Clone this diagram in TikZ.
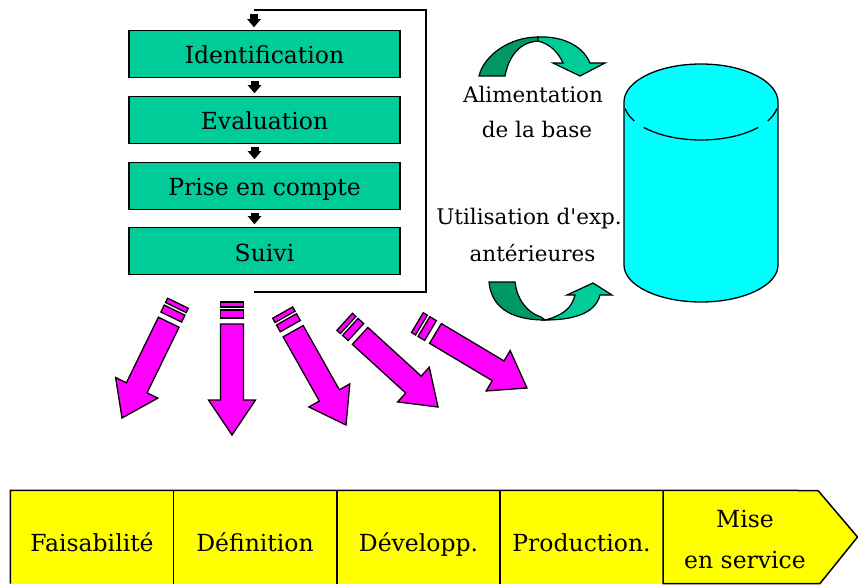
\documentclass[tikz,border=0pt]{standalone}
\usepackage{fontspec}
\setmainfont{DejaVu Serif}
\usetikzlibrary{arrows.meta,calc}
\definecolor{boxgreen}{HTML}{00CC99}
\definecolor{darkgreen}{HTML}{009966}
\definecolor{pinkarrow}{HTML}{FF00FF}
\definecolor{cyl}{HTML}{00FFFF}
\definecolor{phase}{HTML}{FFFF00}
\tikzset{
  stepbox/.style={draw=black,line width=1.5pt,fill=boxgreen,minimum width=271pt,minimum height=47pt,inner sep=0pt,text height=24pt,text depth=4pt,font=\fontsize{23.5}{26}\selectfont},
  phasebox/.style={fill=phase,minimum width=163pt,minimum height=93pt,inner sep=0pt,text height=32pt,text depth=4pt,font=\fontsize{23.5}{26}\selectfont},
  phaseline/.style={line width=1.5pt,black},
  phasetext/.style={inner sep=0pt,anchor=base,font=\fontsize{23.5}{26}\selectfont},
  sidelabel/.style={inner sep=0pt,anchor=base,font=\fontsize{21.5}{24}\selectfont},
  smallarrow/.style={line width=8pt,black,-{Triangle[length=8pt,width=13pt]},shorten >=2.5pt,shorten <=2.5pt},
  loopline/.style={line width=1.2pt,black},
  pinkpart/.style={draw=black,line width=1.3pt,fill=pinkarrow},
  curveline/.style={draw=black,line width=1.2pt},
  cylline/.style={line width=1.3pt,black},
}
% #1 tip x, #2 tip y, #3 angle, #4 length scale
\newcommand{\blockarrow}[4]{%
  \begin{scope}[shift={(#1,#2)},rotate=#3,xscale=#4]
    \path[pinkpart] (0,0) -- (-35,23.5) -- (-35,11.5) -- (-111,11.5) -- (-111,-11.5) -- (-35,-11.5) -- (-35,-23.5) -- cycle;
    \path[pinkpart] (-117,11.5) rectangle (-125,-11.5);
    \path[pinkpart] (-128,11.5) rectangle (-133,-11.5);
  \end{scope}}
\begin{document}
\begin{tikzpicture}[x=1pt,y=1pt]
\useasboundingbox (0,0) rectangle (858,-585);
% process boxes
\node[stepbox] (id) at (264.5,-54) {Identification};
\node[stepbox] (ev) at (264.5,-120) {Evaluation};
\node[stepbox] (pr) at (264.5,-186) {Prise en compte};
\node[stepbox] (su) at (264.5,-251) {Suivi};
% small arrows
\coordinate (in) at (254,-12);
\draw[smallarrow] (in) -- (in |- id.north);
\draw[smallarrow] ($(id.south)+(-10,0)$) -- ($(ev.north)+(-10,0)$);
\draw[smallarrow] ($(ev.south)+(-10,0)$) -- ($(pr.north)+(-10,0)$);
\draw[smallarrow] ($(pr.south)+(-10,0)$) -- ($(su.north)+(-10,0)$);
% feedback loop
\coordinate (ls) at (254,-292);
\coordinate (lb) at (426,-292);
\coordinate (lt) at (426,-10);
\coordinate (le) at (254,-10);
\draw[loopline] (ls) -- (lb) -- (lt) -- (le);
% pink arrows
\blockarrow{122}{-418}{244}{0.96}
\blockarrow{232}{-435}{270}{1}
\blockarrow{346}{-425}{299.4}{0.97}
\blockarrow{438}{-407}{317.6}{0.95}
\blockarrow{527}{-388}{329.2}{0.96}
% curved arrows top
\path[curveline,fill=darkgreen] (479,-76) .. controls (484,-55) and (510,-37) .. (538,-37) -- (540,-41)
  .. controls (525,-41) and (510,-50) .. (505,-76) -- cycle;
\path[curveline,fill=boxgreen] (538,-37) .. controls (560,-36) and (582,-44) .. (590,-63) -- (605,-63) -- (580,-76) -- (553,-63) -- (563,-63)
  .. controls (558,-52) and (550,-44) .. (538,-41) -- cycle;
% curved arrows bottom
\path[curveline,fill=darkgreen] (489,-282) .. controls (491,-305) and (508,-320) .. (545,-320) -- (541,-317)
  .. controls (528,-313) and (517,-300) .. (515,-282) -- cycle;
\path[curveline,fill=boxgreen] (545,-320) .. controls (570,-320) and (595,-315) .. (600,-295) -- (612,-295) -- (593,-283) -- (567,-295) -- (575,-295)
  .. controls (572,-307) and (565,-313) .. (552,-318) -- cycle;
% labels
\node[sidelabel] (alim) at (533,-103) {Alimentation};
\node[sidelabel] (base) at (537,-138) {de la base};
\node[sidelabel] (util) at (529,-225) {Utilisation d\textquotesingle exp.};
\node[sidelabel] (ante) at (532.5,-261) {antérieures};
% cylinder
\fill[cyl] (624,-102) arc[start angle=180,end angle=0,x radius=77,y radius=38] -- (778,-265) arc[start angle=0,end angle=-180,x radius=77,y radius=37] -- cycle;
\draw[cylline] (624,-102) arc[start angle=180,end angle=0,x radius=77,y radius=38] -- (778,-265) arc[start angle=0,end angle=-180,x radius=77,y radius=37] -- cycle;
\draw[cylline] (701,-102) ++(-170:77 and 38) arc[start angle=-170,end angle=-150,x radius=77,y radius=38];
\draw[cylline] (701,-102) ++(-138:77 and 38) arc[start angle=-138,end angle=-42,x radius=77,y radius=38];
\draw[cylline] (701,-102) ++(-30:77 and 38) arc[start angle=-30,end angle=-10,x radius=77,y radius=38];
% phases
\node[phasebox] (f) at (92,-537) {Faisabilité};
\node[phasebox,minimum width=164pt] (d) at (255,-537) {Définition};
\node[phasebox] (v) at (418.5,-537) {Développ.};
\node[phasebox] (p) at (581.5,-537) {Production.};
\coordinate (mtl) at (663,-490.5);
\coordinate (mtr) at (818,-490.5);
\coordinate (mtip) at (857.5,-537);
\coordinate (mbr) at (820,-583.5);
\coordinate (mbl) at (663,-583.5);
\fill[phase] (mtl) -- (mtr) -- (mtip) -- (mbr) -- (mbl) -- cycle;
\draw[phaseline] (f.south west) -- (f.north west) -- (mtr) -- (mtip) -- (mbr) -- (mbl) -- (mtl);
\draw[phaseline] (f.north east) -- (f.south east);
\draw[phaseline] (d.north east) -- (d.south east);
\draw[phaseline] (v.north east) -- (v.south east);
\node[phasetext] (m1) at (745,-527) {Mise};
\node[phasetext] (m2) at (745,-568) {en service};
\end{tikzpicture}
\end{document}
